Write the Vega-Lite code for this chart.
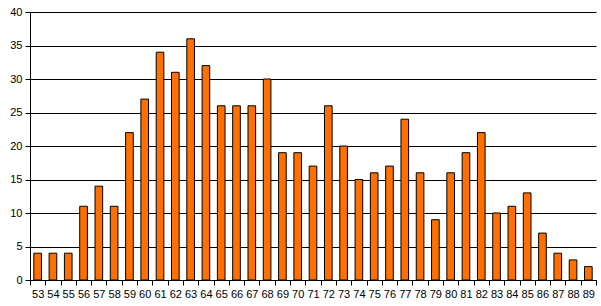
{
  "$schema": "https://vega.github.io/schema/vega-lite/v6.json",
  "autosize": {"type": "none"},
  "width": 566,
  "height": 268,
  "padding": {"left": 30, "top": 12, "right": 5, "bottom": 26},
  "background": "white",
  "config": {"view": {"stroke": null}, "font": "Liberation Sans"},
  "data": {"values": [
    {"k": "53", "v": 4}, {"k": "54", "v": 4}, {"k": "55", "v": 4}, {"k": "56", "v": 11},
    {"k": "57", "v": 14}, {"k": "58", "v": 11}, {"k": "59", "v": 22}, {"k": "60", "v": 27},
    {"k": "61", "v": 34}, {"k": "62", "v": 31}, {"k": "63", "v": 36}, {"k": "64", "v": 32},
    {"k": "65", "v": 26}, {"k": "66", "v": 26}, {"k": "67", "v": 26}, {"k": "68", "v": 30},
    {"k": "69", "v": 19}, {"k": "70", "v": 19}, {"k": "71", "v": 17}, {"k": "72", "v": 26},
    {"k": "73", "v": 20}, {"k": "74", "v": 15}, {"k": "75", "v": 16}, {"k": "76", "v": 17},
    {"k": "77", "v": 24}, {"k": "78", "v": 16}, {"k": "79", "v": 9}, {"k": "80", "v": 16},
    {"k": "81", "v": 19}, {"k": "82", "v": 22}, {"k": "83", "v": 10}, {"k": "84", "v": 11},
    {"k": "85", "v": 13}, {"k": "86", "v": 7}, {"k": "87", "v": 4}, {"k": "88", "v": 3},
    {"k": "89", "v": 2}
  ]},
  "mark": {"type": "bar", "fill": "#ff7000", "stroke": "black", "strokeWidth": 1, "width": {"band": 0.5}},
  "encoding": {
    "x": {
      "field": "k", "type": "ordinal", "sort": null,
      "scale": {"paddingInner": 0, "paddingOuter": 0},
      "axis": {
        "title": null, "labelAngle": 0, "tickBand": "extent", "grid": false,
        "domain": true, "domainColor": "black", "tickColor": "black", "tickSize": 5,
        "labelFontSize": 11, "labelColor": "black", "labelPadding": 3
      }
    },
    "y": {
      "field": "v", "type": "quantitative",
      "scale": {"domain": [0, 40], "nice": false},
      "axis": {
        "title": null, "values": [0, 5, 10, 15, 20, 25, 30, 35, 40],
        "grid": true, "gridColor": "black", "gridOpacity": 1,
        "domainColor": "black", "tickColor": "black", "tickSize": 5,
        "labelFontSize": 11, "labelColor": "black", "labelPadding": 3
      }
    }
  }
}
